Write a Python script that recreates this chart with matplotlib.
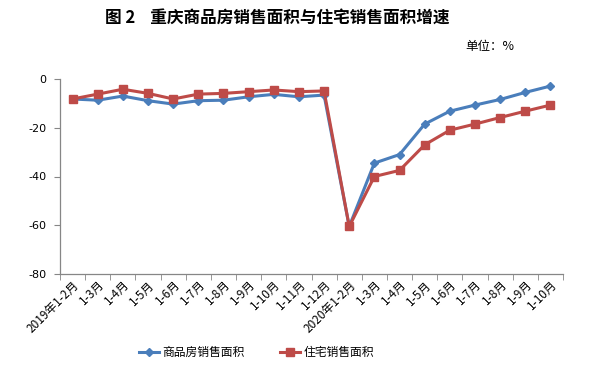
import matplotlib
matplotlib.use("Agg")
import matplotlib.pyplot as plt
import numpy as np

plt.rcParams['font.family'] = ['Noto Sans CJK SC', 'DejaVu Sans']

categories = ["2019年1-2月", "1-3月", "1-4月", "1-5月", "1-6月", "1-7月", "1-8月", "1-9月",
              "1-10月", "1-11月", "1-12月", "2020年1-2月", "1-3月", "1-4月", "1-5月", "1-6月",
              "1-7月", "1-8月", "1-9月", "1-10月"]
commercial = [-8.2, -8.7, -7.0, -8.9, -10.3, -8.9, -8.7, -7.3, -6.3, -7.3, -6.6,
              -60.5, -34.5, -31.0, -18.5, -13.2, -10.7, -8.4, -5.5, -2.9]
residential = [-8.2, -6.2, -4.2, -5.9, -8.2, -6.2, -5.9, -5.2, -4.5, -5.2, -4.9,
               -60.5, -40.0, -37.5, -27.0, -21.0, -18.5, -15.8, -13.2, -10.7]
yticks = [0, -20, -40, -60, -80]

fig = plt.figure(figsize=(5.96, 3.73), dpi=100)
ax = fig.add_axes([60/596, 1-274/373, 503/596, 195/373])

x = np.arange(len(categories))
ax.plot(x, commercial, color='#4A7EBB', lw=2.2, marker='D', markersize=4.5, label='商品房销售面积')
ax.plot(x, residential, color='#BE4B48', lw=2.2, marker='s', markersize=6, label='住宅销售面积')

ax.set_xlim(-0.5, len(categories) - 0.5)
ax.set_ylim(-80, 0)
ax.set_yticks(yticks)
ax.set_yticklabels([str(v) for v in yticks], fontsize=8, family=['DejaVu Sans'])
ax.set_xticks(x)
ax.set_xticklabels(categories, rotation=45, ha='right', rotation_mode='anchor', fontsize=8.5)
ax.set_xticks(np.arange(-0.5, len(categories), 1), minor=True)
ax.tick_params(axis='x', which='major', length=0, pad=3)
ax.tick_params(axis='x', which='minor', length=4, color='#868686', direction='out')
ax.tick_params(axis='y', length=4, color='#868686', direction='out', pad=6)

for s in ['top', 'right']:
    ax.spines[s].set_visible(False)
for s in ['left', 'bottom']:
    ax.spines[s].set_color('#868686')
    ax.spines[s].set_linewidth(0.9)

fig.text(0.465, 0.952, '图 2    重庆商品房销售面积与住宅销售面积增速', ha='center', va='center',
         fontsize=12, fontweight='bold')
fig.text(0.822, 0.874, '单位：%', ha='center', va='center', fontsize=9)

fig.legend(loc='center', bbox_to_anchor=(0.43, 0.055), ncol=2, frameon=False, fontsize=8.5,
           handlelength=1.7, columnspacing=3.0, handletextpad=0.3)

fig.savefig('out.png', dpi=100)
